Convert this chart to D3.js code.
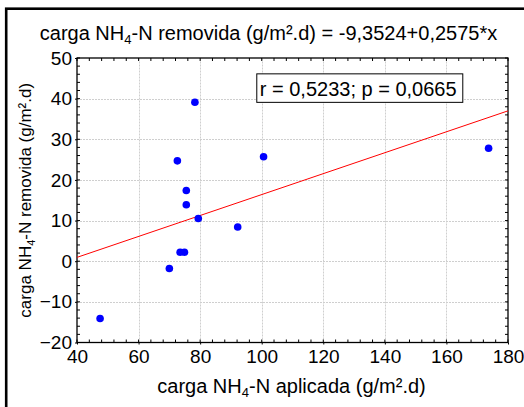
<!DOCTYPE html>
<html>
<head>
<meta charset="utf-8">
<script src="https://cdn.jsdelivr.net/npm/d3@7"></script>
<style>
  html, body { margin: 0; padding: 0; background: #fff; }
  svg { display: block; }
  text { font-family: "Liberation Sans", Arial, sans-serif; fill: #000; }
</style>
</head>
<body>
<svg id="chart" width="524" height="407"></svg>
<script>
// Applied vs. removed NH4-N load per treatment unit
const aplicada  = [47.5, 70.0, 73.5, 74.9, 72.6, 75.5, 75.5, 78.3, 79.4, 92.2, 100.6, 173.7];
const removida  = [-14.1, -1.8, 2.2, 2.2, 24.7, 17.4, 13.9, 39.1, 10.5, 8.4, 25.7, 27.8];

// Linear fit and statistics
const intercept = -9.3524;
const slope = 0.2575;
const rValue = "0,5233";
const pValue = "0,0665";

const xTicks = [40, 60, 80, 100, 120, 140, 160, 180];
const yTicks = [-20, -10, 0, 10, 20, 30, 40, 50];
const xMinor = d3.range(40, 180.001, 4);
const yMinor = d3.range(-20, 50.001, 2);

const fmt = d => String(d).replace(".", ",");

const svg = d3.select("#chart");
const W = 524, H = 407;
const m = { left: 77, right: 524 - 508, top: 58, bottom: 407 - 342.5 };

const x = d3.scaleLinear().domain([40, 180]).range([m.left, W - m.right]);
const y = d3.scaleLinear().domain([-20, 50]).range([H - m.bottom, m.top]);

// outer frame (runs past the right and bottom edges)
svg.append("rect")
  .attr("x", 6.2).attr("y", 8.7)
  .attr("width", 560).attr("height", 440)
  .attr("fill", "none").attr("stroke", "#000").attr("stroke-width", 2.6);

// title
const title = svg.append("text")
  .attr("x", (x.range()[0] + x.range()[1]) / 2 - 24).attr("y", 40)
  .attr("text-anchor", "middle").attr("font-size", 20);
title.append("tspan").text("carga NH");
title.append("tspan").attr("font-size", 13).attr("dy", 4).text("4");
title.append("tspan").attr("dy", -4).text("-N removida (g/m².d) = " + fmt(intercept) + "+" + fmt(slope) + "*x");

// grid lines
const grid = svg.append("g").attr("stroke", "#cfcfcf").attr("stroke-width", 1).attr("stroke-dasharray", "2,1");
grid.selectAll("line.gx").data(xTicks.slice(1, -1)).join("line")
  .attr("x1", d => Math.round(x(d)) + 0.5).attr("x2", d => Math.round(x(d)) + 0.5)
  .attr("y1", y(-20)).attr("y2", y(50));
grid.selectAll("line.gy").data(yTicks.slice(1, -1)).join("line")
  .attr("y1", d => Math.round(y(d)) + 0.5).attr("y2", d => Math.round(y(d)) + 0.5)
  .attr("x1", x(40)).attr("x2", x(180));

// axes: major ticks with labels, minor ticks pointing inward
const axisStyle = g => {
  g.select(".domain").remove();
  g.selectAll("text").attr("font-size", 19).attr("font-family", "Liberation Sans, Arial, sans-serif");
};

svg.append("g").attr("transform", `translate(0,${y(-20)})`)
  .call(d3.axisBottom(x).tickValues(xTicks).tickSize(2).tickPadding(5).tickFormat(d3.format("d")))
  .call(axisStyle)
  .call(g => g.selectAll("text").attr("dy", "0.71em").attr("y", 7));

svg.append("g").attr("transform", `translate(${x(40)},0)`)
  .call(d3.axisLeft(y).tickValues(yTicks).tickSize(2).tickPadding(3).tickFormat(d3.format("d")))
  .call(axisStyle);

// inward minor ticks on all four sides
const tk = svg.append("g").attr("stroke", "#000").attr("stroke-width", 1);
const tl = 3;
tk.selectAll("line.b").data(xMinor).join("line")
  .attr("x1", d => x(d)).attr("x2", d => x(d)).attr("y1", y(-20)).attr("y2", y(-20) - tl);
tk.selectAll("line.t").data(xMinor).join("line")
  .attr("x1", d => x(d)).attr("x2", d => x(d)).attr("y1", y(50)).attr("y2", y(50) + tl);
tk.selectAll("line.l").data(yMinor).join("line")
  .attr("y1", d => y(d)).attr("y2", d => y(d)).attr("x1", x(40)).attr("x2", x(40) + tl);
tk.selectAll("line.r").data(yMinor).join("line")
  .attr("y1", d => y(d)).attr("y2", d => y(d)).attr("x1", x(180)).attr("x2", x(180) - tl);

// plot frame
svg.append("rect")
  .attr("x", x(40)).attr("y", y(50))
  .attr("width", x(180) - x(40)).attr("height", y(-20) - y(50))
  .attr("fill", "none").attr("stroke", "#000").attr("stroke-width", 1.3);

// regression line
svg.append("line")
  .attr("x1", x(40)).attr("y1", y(intercept + slope * 40))
  .attr("x2", x(180)).attr("y2", y(intercept + slope * 180))
  .attr("stroke", "#ff0000").attr("stroke-width", 1);

// points
svg.append("g").selectAll("circle")
  .data(aplicada.map((v, i) => [v, removida[i]]))
  .join("circle")
  .attr("cx", d => x(d[0])).attr("cy", d => y(d[1]))
  .attr("r", 3.8).attr("fill", "#0000ff");

// statistics box
const statText = "r = " + rValue + "; p = " + pValue;
const bx = x(98.4), by = y(46.1);
svg.append("rect")
  .attr("x", bx).attr("y", by).attr("width", 206).attr("height", 28.5)
  .attr("fill", "#fff").attr("stroke", "#000").attr("stroke-width", 1);
svg.append("text")
  .attr("x", bx + 3).attr("y", by + 22.5)
  .attr("font-size", 20).text(statText);

// x-axis label
const xl = svg.append("text")
  .attr("x", (x(40) + x(180)) / 2 - 1).attr("y", 393)
  .attr("text-anchor", "middle").attr("font-size", 20);
xl.append("tspan").text("carga NH");
xl.append("tspan").attr("font-size", 13).attr("dy", 4).text("4");
xl.append("tspan").attr("dy", -4).text("-N aplicada (g/m².d)");

// y-axis label
const yl = svg.append("text")
  .attr("transform", `translate(31,${(y(-20) + y(50)) / 2}) rotate(-90)`)
  .attr("text-anchor", "middle").attr("font-size", 17);
yl.append("tspan").text("carga NH");
yl.append("tspan").attr("font-size", 11).attr("dy", 4).text("4");
yl.append("tspan").attr("dy", -4).text("-N removida (g/m².d)");
</script>
</body>
</html>
